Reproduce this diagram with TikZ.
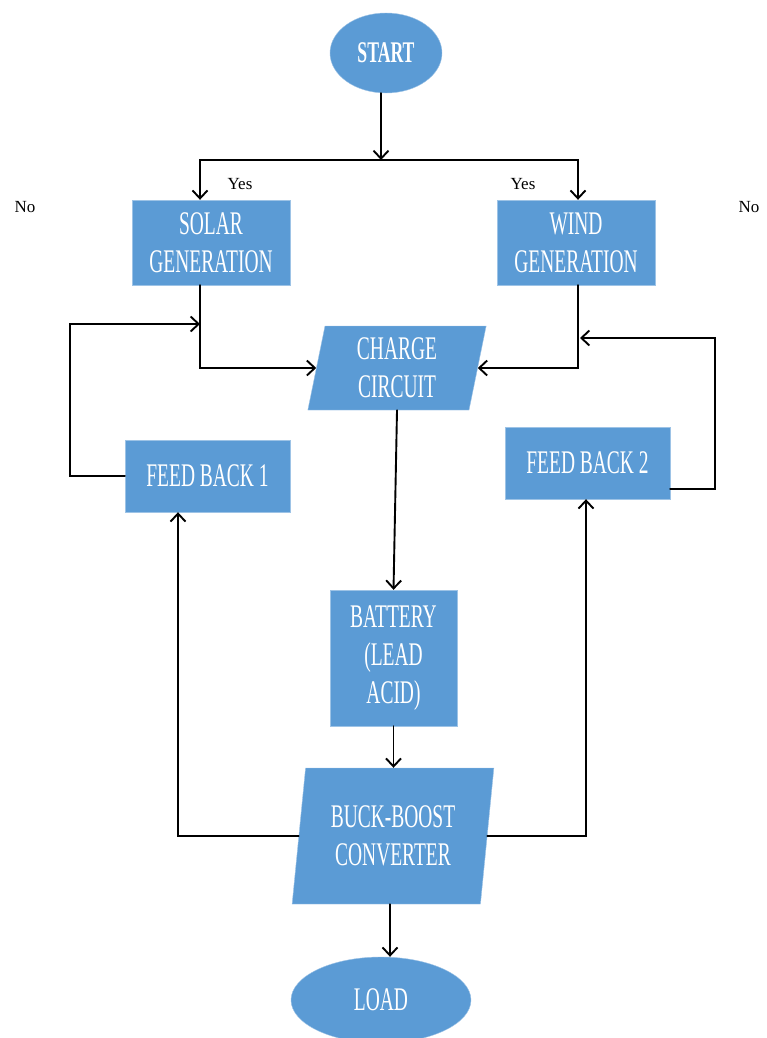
\documentclass[tikz,border=0pt]{standalone}
\usepackage{fontspec}
\setmainfont{Liberation Serif}
\usepackage{graphicx}
\usetikzlibrary{shapes.geometric,arrows.meta}
\newcommand{\narrowtxt}[1]{\scalebox{0.59}[1]{#1}}

\begin{document}
\begin{tikzpicture}
		[x=1pt,y=-1pt,line cap=round,
		%Styles
		block/.style={rectangle,fill=boxcolor,draw=boxedge,text=white,inner sep=0pt,align=center,font=\fontsize{33}{38}\selectfont},
		slanted/.style={block,trapezium,trapezium left angle=81,trapezium right angle=99,trapezium stretches=true},
		terminal/.style={block,ellipse},
		flow/.style={line width=1.9pt,-{Straight Barb[length=8pt,width=15pt,line width=1.9pt]}},
		answer/.style={font=\fontsize{17}{20}\selectfont}
		]
		
		%Colors
		\definecolor{boxcolor}{HTML}{5B9BD5}
		\colorlet{boxedge}{boxcolor!60!white}	%thin rim of the blocks
		
		\useasboundingbox (0,0) rectangle (766,1038);
		
		%The blocks
		\node[terminal,minimum width=112pt,minimum height=80pt,font=\fontsize{30}{36}\selectfont\bfseries] (start) at (386,53) {\narrowtxt{START}};
		\node[block,minimum width=158pt,minimum height=85pt] (solar) at (211,242.5) {\narrowtxt{SOLAR}\\\narrowtxt{GENERATION}};
		\node[block,minimum width=158pt,minimum height=85pt] (wind) at (576,242.5) {\narrowtxt{WIND}\\\narrowtxt{GENERATION}};
		\node[slanted,minimum width=180pt,minimum height=84pt] (charge) at (397,368) {\narrowtxt{CHARGE}\\\narrowtxt{CIRCUIT}};
		\node[block,minimum width=165pt,minimum height=72pt] (fb1) at (207.5,476) {\narrowtxt{FEED BACK 1}};
		\node[block,minimum width=165pt,minimum height=72pt] (fb2) at (587.5,463) {\narrowtxt{FEED BACK 2}};
		\node[block,minimum width=127pt,minimum height=136pt] (battery) at (393.5,658) {\narrowtxt{BATTERY}\\\narrowtxt{(LEAD}\\\narrowtxt{ACID)}};
		\node[slanted,minimum width=202pt,minimum height=136pt] (buck) at (393,836) {\narrowtxt{BUCK-BOOST}\\\narrowtxt{CONVERTER}};
		\node[terminal,minimum width=180pt,minimum height=86pt] (load) at (381,1000) {\narrowtxt{LOAD}};
		
		%Answers
		\node[answer] (yes1) at (240,184) {Yes};
		\node[answer] (yes2) at (523,184) {Yes};
		\node[answer] (no1) at (25,207) {No};
		\node[answer] (no2) at (749,207) {No};
		
		\coordinate (split) at (381,160);
		\coordinate (fbin1) at (200,324);
		\coordinate (fbin2) at (580,338);
		
		%The connectors
		\draw[flow] (start.south -| split) -- (split);
		\draw[flow] (split) -| ([xshift=-11pt]solar.north);
		\draw[flow] (split) -| ([xshift=2pt]wind.north);
		\draw[flow] ([xshift=-11pt]solar.south) |- (charge.west);
		\draw[flow] ([xshift=2pt]wind.south) |- (charge.east);
		\draw[flow] (fb1.west) -- ++(-55,0) |- (fbin1);
		\draw[flow] ([yshift=-26pt]fb2.east) -- ++(45,0) |- (fbin2);
		\draw[flow] (charge.south) -- (battery.north);
		\draw[flow] (battery.south) -- (battery.south |- buck.north);
		\draw[flow] (buck.west) -| ([xshift=-29.5pt]fb1.south);
		\draw[flow] (buck.east) -| ([xshift=-1.5pt]fb2.south);
		\draw[flow] ([xshift=-3pt]buck.south) -- ([xshift=-3pt]buck.south |- load.north);
	\end{tikzpicture}
\end{document}
